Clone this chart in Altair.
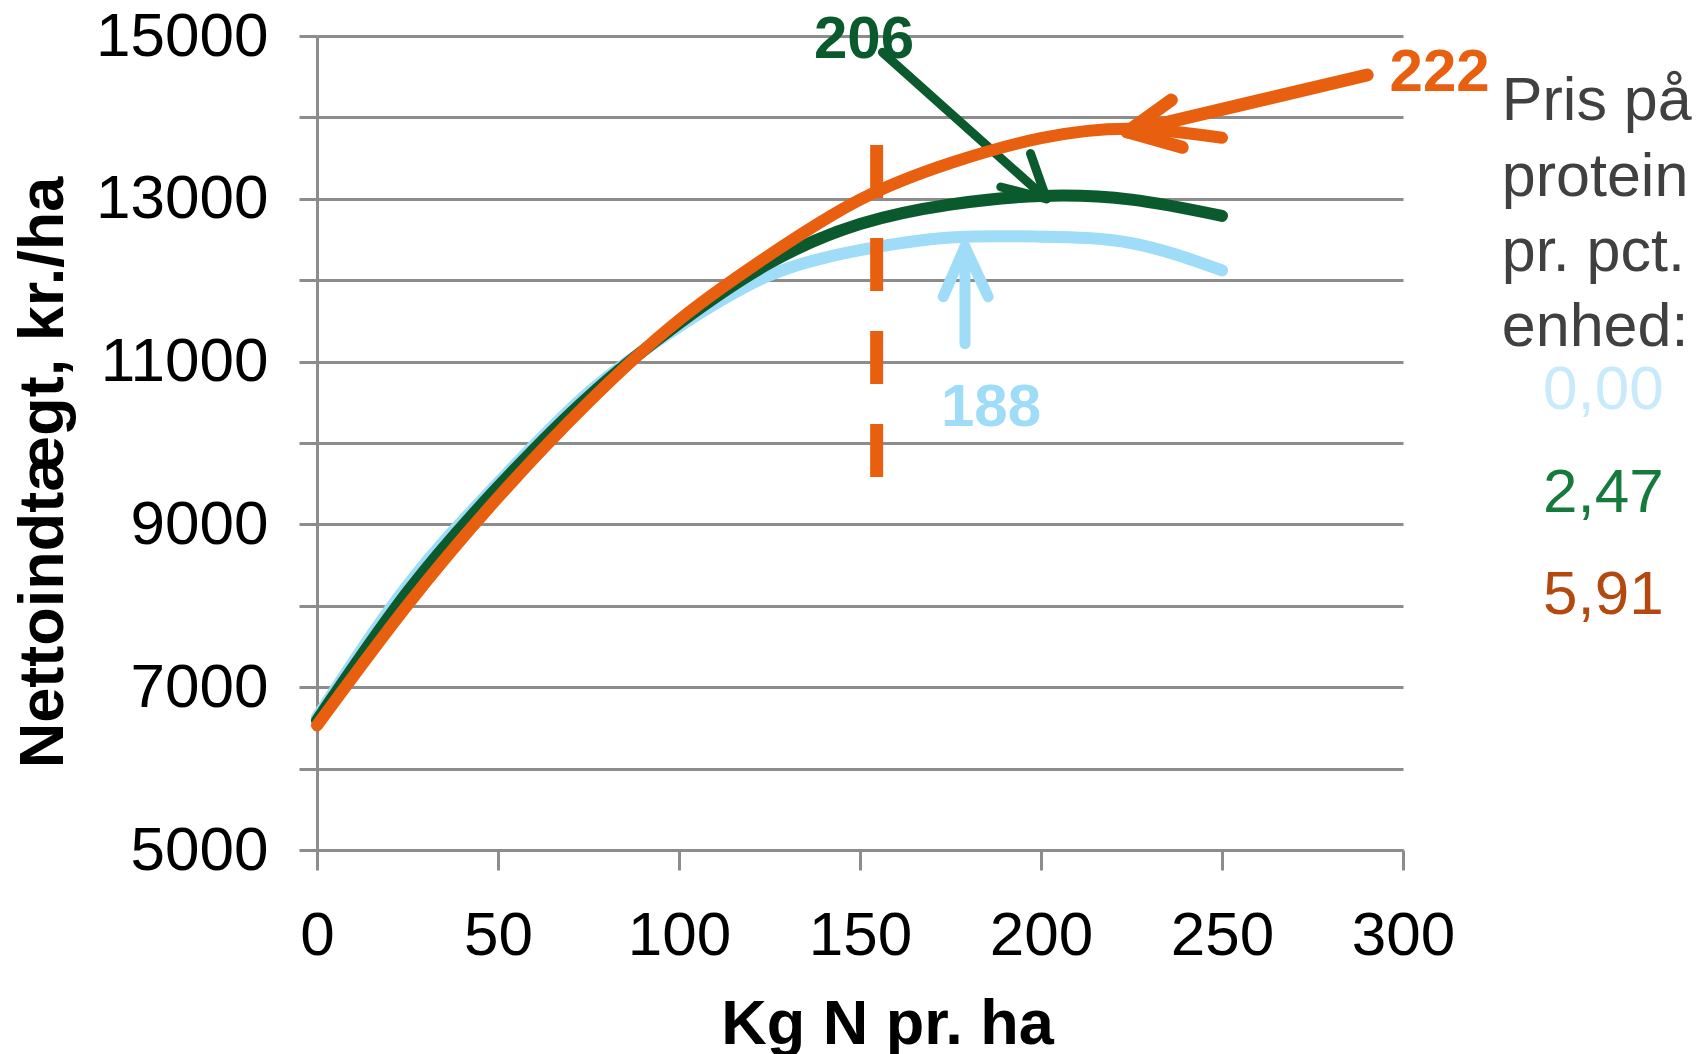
import altair as alt
import pandas as pd

# ---------------- data ----------------
n_rate = [0, 25, 50, 75, 100, 125, 150, 175, 200, 225, 250]
income_000 = [6630, 8250, 9510, 10620, 11430, 12060, 12370, 12525, 12535, 12455, 12120]
income_247 = [6590, 8170, 9460, 10570, 11470, 12210, 12690, 12930, 13035, 12990, 12790]
income_591 = [6530, 8010, 9330, 10500, 11510, 12310, 12990, 13440, 13745, 13860, 13750]

x_ticks = [0, 50, 100, 150, 200, 250, 300]
y_ticks = [5000, 6000, 7000, 8000, 9000, 10000, 11000, 12000, 13000, 14000, 15000]

# optimum arrows (0,00 / 2,47 / 5,91): tail, tip and the two wing ends
arrow_tail_x = [179.0, 156.2, 290.1]
arrow_tail_y = [11220, 14799, 14521]
arrow_tip_x = [179.0, 201.5, 223.8]
arrow_tip_y = [12410, 13000, 13824]
wing1_x = [173.0, 197.1, 236.0]
wing1_y = [11797, 13556, 14213]
wing2_x = [185.4, 188.9, 239.0]
wing2_y = [11797, 13145, 13632]

opt_labels = ["188", "206", "222"]
opt_label_x = [186.2, 151.1, 310.1]
opt_label_y = [10209, 14730, 14328]

# dashed vertical marker
dash_x = [154.6]
dash_y = [9570]
dash_y2 = [13661]

# legend-like text at the right
legend_lines = ["Pris på", "protein", "pr. pct.", "enhed:"]
legend_line_x = [327.3, 327.3, 327.3, 327.3]
legend_line_y = [13968, 13040, 12113, 11186]
price_labels = ["0,00", "2,47", "5,91"]
price_x = [338.7, 338.7, 338.7]
price_y = [10413, 9151, 7903]

# ---------------- styling ----------------
c_blue = "#9EDCF7"
c_green = "#0B5A2E"
c_orange = "#E8600F"
line_colors = [c_blue, c_green, c_orange]
arrow_widths = [11, 9, 13]
price_colors = ["#C8EAFB", "#177A3D", "#B4490F"]
grey = "#8C8C8C"
FONT = "Liberation Sans, Arial, sans-serif"

xs = alt.Scale(domain=[0, 300], nice=False)
ys = alt.Scale(domain=[5000, 15000], nice=False, zero=False)

curve_df = pd.DataFrame({
    "n": n_rate * 3,
    "v": income_000 + income_247 + income_591,
    "s": ["0,00"] * len(n_rate) + ["2,47"] * len(n_rate) + ["5,91"] * len(n_rate),
})

x_axis = alt.Axis(
    values=x_ticks, grid=False, title="Kg N pr. ha",
    domainColor=grey, domainWidth=3, tickColor=grey, tickWidth=3, tickSize=20,
    labelFont=FONT, labelFontSize=62, labelColor="black", labelPadding=35,
    labelFlush=False, labelOverlap=False,
    titleFont=FONT, titleFontSize=63, titleFontWeight="bold", titleColor="black",
    titleX=570, titleY=174, titleBaseline="middle", titleAlign="center",
)
y_axis = alt.Axis(
    values=y_ticks, grid=True, gridColor=grey, gridWidth=3, format="d",
    labelExpr="(datum.value - 5000) % 2000 == 0 ? datum.label : ''",
    domainColor=grey, domainWidth=3, tickColor=grey, tickWidth=3, tickSize=18,
    labelFont=FONT, labelFontSize=62, labelColor="black", labelPadding=31,
    labelBaseline="middle", labelFlush=False, labelOverlap=False,
    title="Nettoindtægt, kr./ha",
    titleFont=FONT, titleFontSize=63, titleFontWeight="bold", titleColor="black",
    titleX=-274, titleY=436, titleAngle=270, titleBaseline="middle", titleAlign="center",
)


def X(field):
    return alt.X(field, scale=xs, axis=x_axis)


def Y(field):
    return alt.Y(field, scale=ys, axis=y_axis)


def curve(series, color):
    return alt.Chart(curve_df).transform_filter(alt.datum.s == series).mark_line(
        color=color, strokeWidth=12, strokeCap="round", strokeJoin="round",
        interpolate="natural",
    ).encode(x=X("n:Q"), y=Y("v:Q"))


def arrow(i):
    df = pd.DataFrame({
        "x": [arrow_tail_x[i], arrow_tip_x[i], arrow_tip_x[i]],
        "y": [arrow_tail_y[i], arrow_tip_y[i], arrow_tip_y[i]],
        "x2": [arrow_tip_x[i], wing1_x[i], wing2_x[i]],
        "y2": [arrow_tip_y[i], wing1_y[i], wing2_y[i]],
    })
    return alt.Chart(df).mark_rule(
        color=line_colors[i], strokeWidth=arrow_widths[i], strokeCap="round"
    ).encode(x=X("x:Q"), y=Y("y:Q"), x2="x2:Q", y2="y2:Q")


dash = alt.Chart(pd.DataFrame({"x": dash_x, "y": dash_y, "y2": dash_y2})).mark_rule(
    color=c_orange, strokeWidth=13, strokeDash=[53, 40], strokeCap="butt"
).encode(x=X("x:Q"), y=Y("y2:Q"), y2="y:Q")

opt_df = pd.DataFrame({"x": opt_label_x, "y": opt_label_y, "t": opt_labels, "c": line_colors})
opt_text = alt.Chart(opt_df).mark_text(
    font=FONT, fontSize=60, fontWeight="bold", align="center", baseline="alphabetic"
).encode(x=X("x:Q"), y=Y("y:Q"), text="t:N", color=alt.Color("c:N", scale=None))

leg_df = pd.DataFrame({"x": legend_line_x, "y": legend_line_y, "t": legend_lines})
leg_text = alt.Chart(leg_df).mark_text(
    font=FONT, fontSize=61, color="#404040", align="left", baseline="alphabetic"
).encode(x=X("x:Q"), y=Y("y:Q"), text="t:N")

price_df = pd.DataFrame({"x": price_x, "y": price_y, "t": price_labels, "c": price_colors})
price_text = alt.Chart(price_df).mark_text(
    font=FONT, fontSize=62, align="left", baseline="alphabetic"
).encode(x=X("x:Q"), y=Y("y:Q"), text="t:N", color=alt.Color("c:N", scale=None))

chart = alt.layer(
    curve("0,00", c_blue),
    curve("2,47", c_green),
    arrow(1),
    curve("5,91", c_orange),
    dash,
    arrow(2),
    arrow(0),
    opt_text,
    leg_text,
    price_text,
).properties(
    width=1086,
    height=814,
    autosize=alt.AutoSizeParams(type="none"),
    padding={"left": 309, "top": 28, "right": 296, "bottom": 204},
    background="white",
).configure_view(strokeWidth=0)

chart.save("out.html", embed_options={"renderer": "svg", "actions": False})
